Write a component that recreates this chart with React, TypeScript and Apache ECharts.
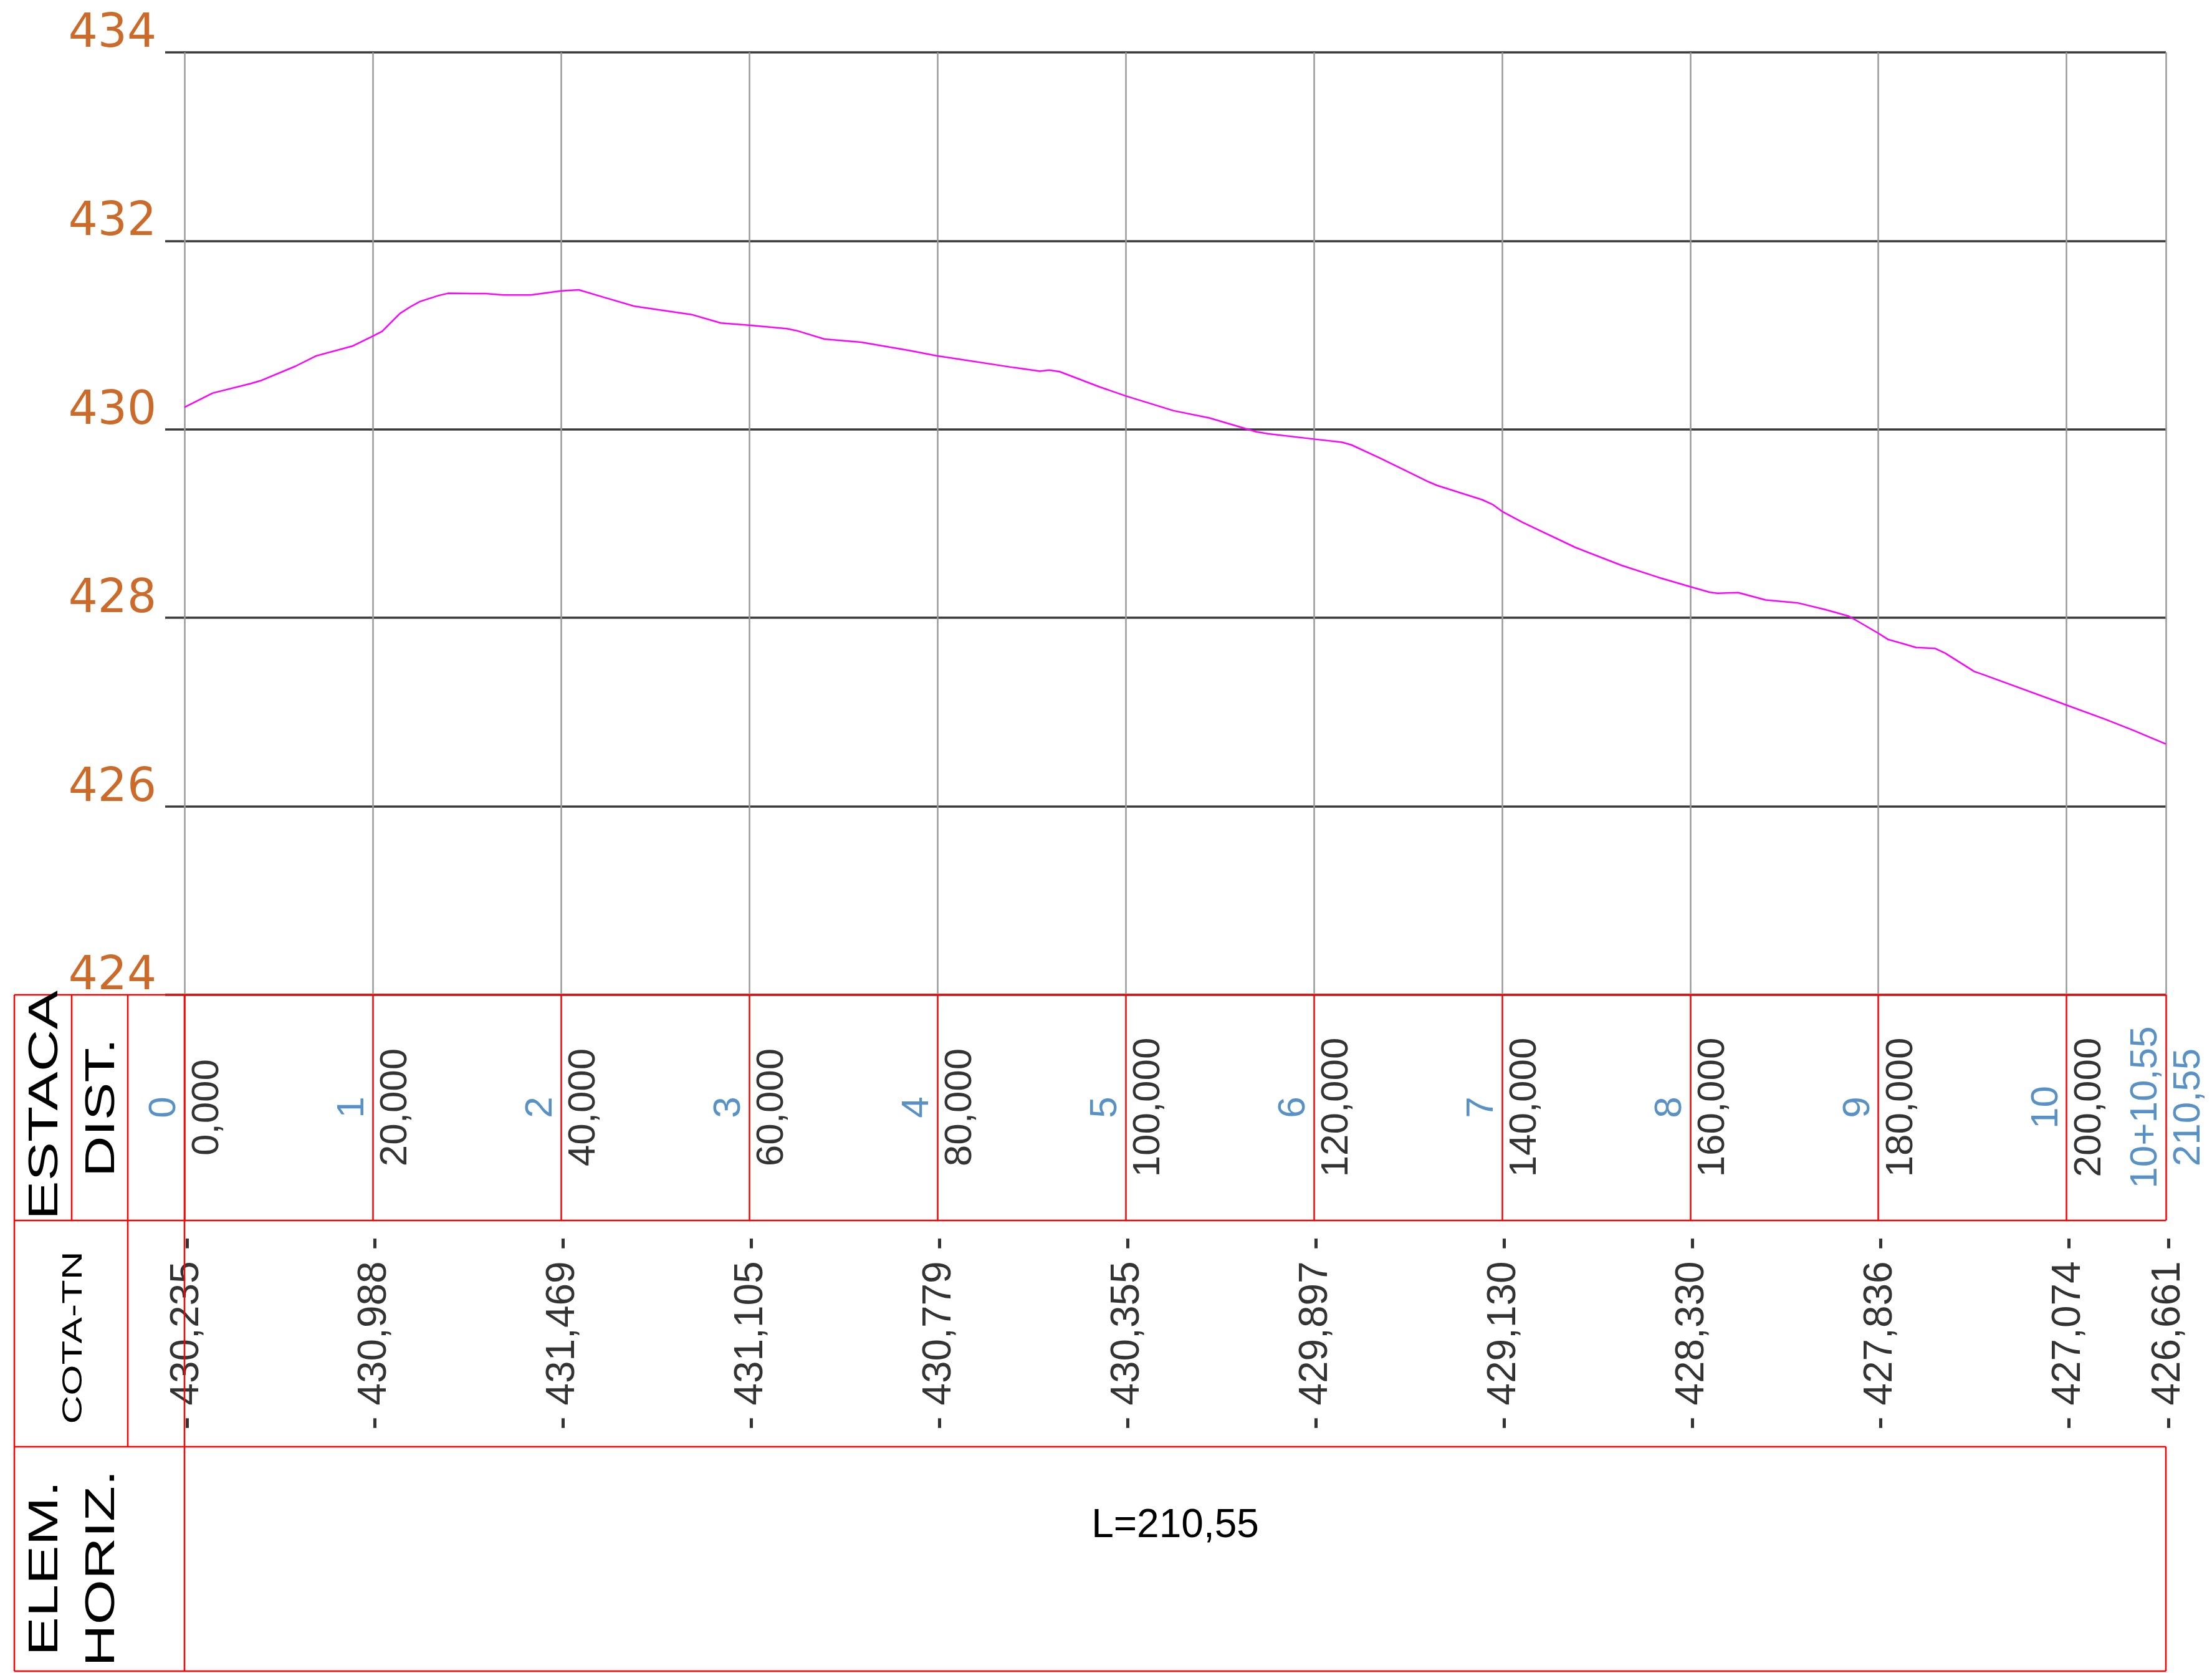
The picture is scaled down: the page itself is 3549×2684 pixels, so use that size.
import React, { useEffect, useRef } from "react";
import * as echarts from "echarts";

// ---- data ----
const profileDist = [
  0, 3.0, 7.0, 8.2, 11.8, 14.0, 17.9, 20, 21.0, 22.9, 24.0, 25.0, 27.0, 28.0, 32.0, 33.9, 36.8,
  40, 41.9, 44.6, 47.8, 53.9, 57.0, 60, 64.0, 65.1, 68.0, 71.9, 77.0, 80, 82.0, 88.1, 90.9,
  91.9, 93.0, 97.2, 100, 105.1, 108.9, 113.9, 115.2, 120, 123.0, 124.0, 127.1, 132.2, 133.1,
  137.9, 139.0, 140, 142.2, 147.8, 152.7, 156.6, 160, 162.1, 162.9, 165.1, 168.0, 171.4,
  174.3, 176.8, 177.7, 180, 181.0, 184.0, 186.0, 187.1, 190.2, 191.3, 200, 204.1, 207.0, 210.55,
];
const profileElev = [
  430.235, 430.385, 430.485, 430.52, 430.67, 430.78, 430.885, 430.988, 431.04, 431.23, 431.3,
  431.355, 431.42, 431.443, 431.44, 431.425, 431.425, 431.469, 431.48, 431.4, 431.306, 431.218,
  431.128, 431.105, 431.068, 431.046, 430.958, 430.925, 430.837, 430.779, 430.749, 430.656,
  430.617, 430.628, 430.612, 430.452, 430.355, 430.198, 430.121, 429.974, 429.952, 429.897,
  429.863, 429.835, 429.692, 429.443, 429.405, 429.253, 429.203, 429.13, 429.013, 428.747,
  428.557, 428.43, 428.33, 428.271, 428.261, 428.268, 428.19, 428.159, 428.089, 428.02, 427.97,
  427.836, 427.772, 427.686, 427.676, 427.625, 427.43, 427.392, 427.074, 426.924, 426.81, 426.661,
];
const stationNames = ["0", "1", "2", "3", "4", "5", "6", "7", "8", "9", "10", "10+10,55"];
const stationDist = [0, 20, 40, 60, 80, 100, 120, 140, 160, 180, 200, 210.55];
const distLabels = [
  "0,000", "20,000", "40,000", "60,000", "80,000", "100,000", "120,000", "140,000",
  "160,000", "180,000", "200,000", "210,55",
];
const cotaLabels = [
  "430,235", "430,988", "431,469", "431,105", "430,779", "430,355", "429,897", "429,130",
  "428,330", "427,836", "427,074", "426,661",
];
const yMin = 424;
const yMax = 434;
const yStep = 2;
const xStep = 20;
const totalLength = 210.55;
const horizLabel = "L=210,55";
const rowTitles = ["ESTACA", "DIST.", "COTA-TN", "ELEM.", "HORIZ."];

// ---- layout ----
const W = 3549;
const H = 2684;
const PLOT_L = 296;
const PLOT_R = 3475;
const GRID_EXT_L = 265;
const Y_TOP = 84;
const Y_BOT = 1596;
const ROW1_B = 1958;
const ROW2_B = 2321;
const ROW3_B = 2681;
const TABLE_L = 23;
const COL1 = 115;
const COL2 = 205;

const ORANGE = "#CC6A2A";
const BLUE = "#2E75B6";
const RED = "#FF0000";
const FONT = "Liberation Sans";

export default function App() {
  const ref = useRef<HTMLDivElement>(null);
  useEffect(() => {
    if (!ref.current) return;
    const chart = echarts.init(ref.current, undefined, { renderer: "svg" });
    const right = W - PLOT_R;
    const row1Mid = (Y_BOT + ROW1_B) / 2;

    const redLine = (x1: number, y1: number, x2: number, y2: number) => ({
      type: "line",
      z: 100,
      silent: true,
      shape: { x1, y1, x2, y2 },
      style: { stroke: RED, lineWidth: 2.5 },
    });
    const title = (text: string, x: number, y: number, size: number, sx: number) => ({
      type: "text",
      z: 100,
      silent: true,
      x,
      y,
      rotation: Math.PI / 2,
      scaleX: sx,
      style: {
        text,
        fontFamily: FONT,
        fontSize: size,
        fill: "#000",
        textAlign: "center",
        textVerticalAlign: "middle",
      },
    });

    const baseX = {
      type: "value",
      min: 0,
      max: totalLength,
      interval: xStep,
      axisLine: { show: false },
      axisTick: { show: false },
      axisLabel: { show: false },
    };

    const labelFont = { fontFamily: FONT, fontSize: 62 };

    chart.setOption({
      animation: false,
      backgroundColor: "#fff",
      grid: [
        { left: GRID_EXT_L, right, top: Y_TOP, height: Y_BOT - Y_TOP },
        { left: PLOT_L, right, top: Y_TOP, height: Y_BOT - Y_TOP },
        { left: PLOT_L, right, top: Y_BOT, height: ROW1_B - Y_BOT },
        { left: PLOT_L, right, top: ROW1_B, height: ROW2_B - ROW1_B },
      ],
      xAxis: [
        { gridIndex: 0, type: "value", min: 0, max: 1, show: false },
        {
          ...baseX,
          gridIndex: 1,
          splitLine: { show: true, lineStyle: { color: "#9a9a9a", width: 2.5 } },
        },
        {
          ...baseX,
          gridIndex: 2,
          splitLine: { show: true, lineStyle: { color: RED, width: 2.5 } },
        },
        { ...baseX, gridIndex: 3, splitLine: { show: false } },
      ],
      yAxis: [
        {
          gridIndex: 0,
          type: "value",
          min: yMin,
          max: yMax,
          interval: yStep,
          axisLine: { show: false },
          axisTick: { show: false },
          axisLabel: {
            show: true,
            color: ORANGE,
            fontFamily: "DejaVu Sans",
            fontSize: 74,
            lineHeight: 70,
            margin: 14,
            verticalAlign: "bottom",
          },
          splitLine: { show: true, lineStyle: { color: "#383838", width: 3.5 } },
        },
        { gridIndex: 1, type: "value", min: yMin, max: yMax, show: false },
        { gridIndex: 2, type: "value", min: 0, max: 1, show: false },
        { gridIndex: 3, type: "value", min: 0, max: 1, show: false },
      ],
      series: [
        {
          type: "line",
          xAxisIndex: 1,
          yAxisIndex: 1,
          data: profileDist.map((d, i) => [d, profileElev[i]]),
          showSymbol: false,
          symbol: "none",
          lineStyle: { color: "#FF00FF", width: 2.5 },
          z: 5,
          silent: true,
        },
        {
          type: "scatter",
          xAxisIndex: 2,
          yAxisIndex: 2,
          symbolSize: 1,
          itemStyle: { color: "transparent" },
          silent: true,
          data: stationDist.map((d, i) => ({ value: [d, 0.5], name: stationNames[i] })),
          label: {
            show: true,
            formatter: "{b}",
            position: [-36, 0],
            rotate: 90,
            align: "center",
            verticalAlign: "middle",
            color: BLUE,
            ...labelFont,
          },
        },
        {
          type: "scatter",
          xAxisIndex: 2,
          yAxisIndex: 2,
          symbolSize: 1,
          itemStyle: { color: "transparent" },
          silent: true,
          data: stationDist.map((d, i) => ({
            value: [d, 0.5],
            name: distLabels[i],
            label: i === stationDist.length - 1 ? { color: BLUE } : undefined,
          })),
          label: {
            show: true,
            formatter: "{b}",
            position: [33, 0],
            rotate: 90,
            align: "center",
            verticalAlign: "middle",
            color: "#000",
            ...labelFont,
          },
        },
        {
          type: "scatter",
          xAxisIndex: 3,
          yAxisIndex: 3,
          symbolSize: 1,
          itemStyle: { color: "transparent" },
          silent: true,
          data: stationDist.map((d, i) => ({ value: [d, 0.5], name: cotaLabels[i] })),
          label: {
            show: true,
            formatter: (p: any) => "- " + p.name + " -",
            position: [0, 0],
            rotate: 90,
            align: "center",
            verticalAlign: "middle",
            color: "#000",
            fontFamily: FONT,
            fontSize: 64,
          },
        },
      ],
      graphic: [
        redLine(TABLE_L, Y_BOT, PLOT_R, Y_BOT),
        redLine(TABLE_L, ROW1_B, PLOT_R, ROW1_B),
        redLine(TABLE_L, ROW2_B, PLOT_R, ROW2_B),
        redLine(TABLE_L, ROW3_B, PLOT_R, ROW3_B),
        redLine(TABLE_L, Y_BOT, TABLE_L, ROW3_B),
        redLine(COL1, Y_BOT, COL1, ROW1_B),
        redLine(COL2, Y_BOT, COL2, ROW2_B),
        redLine(PLOT_L, Y_BOT, PLOT_L, ROW3_B),
        redLine(PLOT_R, ROW2_B, PLOT_R, ROW3_B),
        title(rowTitles[0], 69, 1773, 66, 1.42),
        title(rowTitles[1], 160, row1Mid, 67, 1.36),
        title(rowTitles[2], 115, 2146, 45, 1.41),
        title(rowTitles[3], 69, 2516, 66, 1.42),
        title(rowTitles[4], 160, 2516, 67, 1.39),
        {
          type: "text",
          z: 100,
          silent: true,
          x: (PLOT_L + PLOT_R) / 2,
          y: 2444,
          style: {
            text: horizLabel,
            fontFamily: FONT,
            fontSize: 64,
            fill: "#000",
            textAlign: "center",
            textVerticalAlign: "middle",
          },
        },
      ],
    });
    return () => chart.dispose();
  }, []);
  return (
    <div
      ref={ref}
      style={{ position: "absolute", left: 0, top: 0, width: W, height: H }}
    />
  );
}
